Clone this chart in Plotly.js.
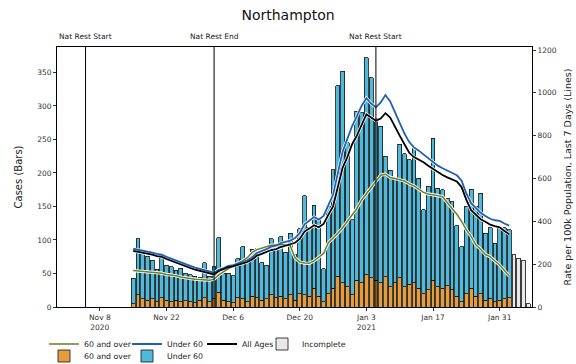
<!DOCTYPE html>
<html><head><meta charset="utf-8">
<script src="https://cdn.plot.ly/plotly-3.0.1.min.js"></script>
<style>html,body{margin:0;padding:0;background:#fff}#chart{width:576px;height:364px}</style>
</head><body><div id="chart"></div>
<script>
// ---- data ----
const startDate = '2020-11-15';          // first complete day
const incompleteStart = '2021-02-03';    // first incomplete day
const totalCases = [43,102,82,76,70,56,78,62,60,55,
  58,50,48,46,44,66,46,60,103,50,
  50,47,72,90,67,86,88,66,62,102,
  88,105,82,110,78,117,166,118,152,132,
  57,150,205,330,352,245,130,292,290,372,
  342,282,270,225,204,190,243,229,220,237,
  192,145,180,252,177,175,162,157,121,90,
  150,176,150,170,110,118,95,118,118,115];
const over60Cases = [5,18,12,10,12,8,14,10,8,10,
  8,9,8,6,10,14,8,12,22,10,
  8,6,14,12,8,16,14,10,12,18,
  14,16,12,18,10,20,18,16,28,16,
  8,20,28,46,36,30,18,40,36,48,
  44,40,36,45,30,36,44,30,34,36,
  28,20,26,40,30,28,32,26,16,8,
  20,28,16,20,10,12,8,10,12,14];
const under60Cases = [38,84,70,66,58,48,64,52,52,45,
  50,41,40,40,34,52,38,48,81,40,
  42,41,58,78,59,70,74,56,50,84,
  74,89,70,92,68,97,148,102,124,116,
  49,130,177,284,316,215,112,252,254,324,
  298,242,234,180,174,154,199,199,186,201,
  164,125,154,212,147,147,130,131,105,82,
  130,148,134,150,100,106,87,108,106,101];
const incompleteCases = [78,73,70,5];
const rateAllAges = [262,258,252,248,244,238,234,224,215,206,
  198,190,182,174,168,162,158,152,168,176,
  186,190,196,202,210,222,240,248,256,266,
  270,280,286,292,300,318,352,366,382,372,
  388,430,470,560,650,700,760,800,850,900,
  885,870,880,905,885,840,800,760,720,700,
  688,676,660,645,630,616,605,595,586,560,
  500,452,430,410,398,385,378,372,355,340];
const rateUnder60 = [272,268,262,258,254,248,244,234,225,216,
  208,200,192,184,177,170,166,160,174,182,
  192,196,202,210,218,232,252,260,270,282,
  286,298,304,310,322,346,386,402,420,408,
  425,475,525,625,725,785,845,890,940,975,
  950,932,955,990,960,910,860,810,770,745,
  730,712,692,676,660,648,638,628,615,590,
  530,485,460,440,425,412,405,402,390,380];
const rate60Over = [170,168,166,163,160,160,158,152,150,146,
  140,136,133,130,128,127,125,130,150,165,
  180,192,205,215,230,255,268,275,282,288,
  290,292,290,286,230,210,205,204,215,232,
  250,300,320,344,370,400,430,460,500,530,
  560,585,615,620,605,600,595,588,575,565,
  550,535,528,525,520,515,490,460,433,400,
  360,330,290,270,245,235,215,196,170,145];
const tickDates = ['2020-11-08','2020-11-22','2020-12-06','2020-12-20','2021-01-03','2021-01-17','2021-01-31'];
const tickLabels = ['Nov 8<br>2020','Nov 22','Dec 6','Dec 20','Jan 3<br>2021','Jan 17','Jan 31'];
const restrictionDates = ['2020-11-05','2020-12-02','2021-01-05'];
const restrictionLabels = ['Nat Rest Start','Nat Rest End','Nat Rest Start'];

function dayList(start, n){
  const out = []; const t0 = Date.parse(start + 'T00:00:00Z');
  for (let i = 0; i < n; i++) out.push(new Date(t0 + i*864e5).toISOString().slice(0,10));
  return out;
}
const days = dayList(startDate, totalCases.length);
const incDays = dayList(incompleteStart, incompleteCases.length);
const barW = 0.8*864e5;
const edge = {color:'#111', width:0.8};
const F = 'DejaVu Sans, Verdana, sans-serif';

const halo = (y) => ({type:'scatter', mode:'lines', x:days, y:y, yaxis:'y2', showlegend:false, hoverinfo:'skip', line:{color:'#fff', width:3.2}});
const traces = [
  halo(rate60Over), halo(rateUnder60), halo(rateAllAges),
  {type:'scatter', mode:'lines', x:days, y:rate60Over, yaxis:'y2', name:'60 and over', legend:'legend', line:{color:'#6f7d24', width:1.5}},
  {type:'scatter', mode:'lines', x:days, y:rateUnder60, yaxis:'y2', name:'Under 60', legend:'legend2', line:{color:'#1f5fb4', width:1.8}},
  {type:'scatter', mode:'lines', x:days, y:rateAllAges, yaxis:'y2', name:'All Ages', legend:'legend3', line:{color:'#000', width:1.8}},
  {type:'bar', x:incDays, y:incompleteCases, name:'Incomplete', legend:'legend4', width:barW, marker:{color:'#e9e9e9', line:edge}},
  {type:'bar', x:days, y:over60Cases, name:'60 and over', legend:'legend5', width:barW, marker:{color:'#e59c3c', line:edge}},
  {type:'bar', x:days, y:under60Cases, name:'Under 60', legend:'legend6', width:barW, marker:{color:'#4fb9dc', line:edge}}
];

const shapes = restrictionDates.map(d => ({type:'line', xref:'x', yref:'paper', x0:d, x1:d, y0:0, y1:1, line:{color:'#000', width:1}}));
const annotations = restrictionDates.map((d,i) => ({xref:'x', yref:'paper', x:d, y:1.04, yanchor:'middle', text:restrictionLabels[i], showarrow:false, font:{size:7.5, family:F, color:'#222'}}));

const legBase = {orientation:'h', xref:'container', yref:'container', xanchor:'left', yanchor:'middle', font:{size:7.8, family:F, color:'#222'}, bgcolor:'rgba(0,0,0,0)', borderwidth:0, itemwidth:30};
const leg = (px, py) => Object.assign({}, legBase, {x:px/576, y:1-py/364});

const layout = {
  width:576, height:364,
  margin:{l:57, r:44, t:47, b:57, autoexpand:false},
  paper_bgcolor:'#fff', plot_bgcolor:'#fff',
  font:{family:F, color:'#222'},
  title:{text:'Northampton', font:{size:14, family:F, color:'#111'}, x:0.5, xanchor:'center', y:1-15/364, yanchor:'middle', yref:'container'},
  barmode:'stack', bargap:0,
  xaxis:{type:'date', range:['2020-10-30','2021-02-06 19:00'], tickvals:tickDates, ticktext:tickLabels, ticks:'outside', ticklen:3, tickcolor:'#333', showgrid:false, zeroline:false, showline:true, linecolor:'#000', linewidth:1, mirror:true, tickfont:{size:7.5, family:F, color:'#333'}},
  yaxis:{range:[0,388], tickvals:[0,50,100,150,200,250,300,350], ticks:'outside', ticklen:3, tickcolor:'#333', showgrid:false, zeroline:false, showline:true, linecolor:'#000', linewidth:1, tickfont:{size:7.5, family:F, color:'#333'}, title:{text:'Cases (Bars)', font:{size:10, family:F, color:'#222'}, standoff:12}},
  yaxis2:{overlaying:'y', side:'right', range:[0,1214], tickvals:[0,200,400,600,800,1000,1200], ticks:'outside', ticklen:3, tickcolor:'#333', showgrid:false, zeroline:false, showline:true, linecolor:'#000', linewidth:1, tickfont:{size:7.5, family:F, color:'#333'}, title:{text:'Rate per 100k Population, Last 7 Days (Lines)', font:{size:9.5, family:F, color:'#222'}, standoff:8}},
  legend: leg(44, 344),
  legend2: leg(127, 344),
  legend3: leg(202, 344),
  legend4: leg(262, 344),
  legend5: leg(44, 356),
  legend6: leg(127, 356),
  shapes:shapes, annotations:annotations, showlegend:true
};
Plotly.newPlot('chart', traces, layout, {displayModeBar:false, staticPlot:true});
</script></body></html>
